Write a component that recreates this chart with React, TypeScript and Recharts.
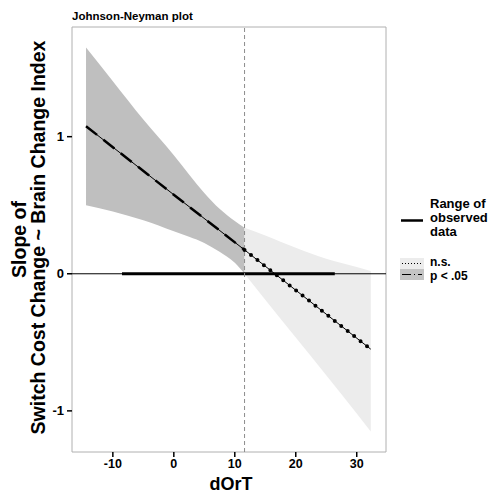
import { ComposedChart, Area, Line, XAxis, YAxis, ReferenceLine, ReferenceArea } from 'recharts'

// values
const xTicks = [-10, 0, 10, 20, 30]
const yTicks = [-1, 0, 1]
const jnPoint = 11.6

// confidence band where slope is significant (p < .05)
const sigX = [-14.4, -10, -5, 0, 2.5, 5, 7.5, 10, 11.6]
const sigLo = [0.5, 0.455, 0.39, 0.31, 0.27, 0.225, 0.16, 0.08, 0.0]
const sigHi = [1.65, 1.405, 1.125, 0.865, 0.725, 0.59, 0.475, 0.385, 0.335]

// confidence band where slope is n.s.
const nsX = [11.6, 15, 20, 25, 30, 32.3]
const nsLo = [0.0, -0.19, -0.465, -0.74, -1.02, -1.15]
const nsHi = [0.335, 0.28, 0.19, 0.11, 0.05, 0.02]

// slope estimate line
const sigLineX = [-14.4, 11.6]
const sigLineY = [1.076, 0.174]
const nsLineX = [11.6, 32.3]
const nsLineY = [0.174, -0.55]

// range of observed moderator values
const observedRange = [-8.5, 26.4]

const sigBand = sigX.map((x, i) => ({ x, band: [sigLo[i], sigHi[i]] }))
const nsBand = nsX.map((x, i) => ({ x, band: [nsLo[i], nsHi[i]] }))
const sigLine = sigLineX.map((x, i) => ({ x, y: sigLineY[i] }))
const nsLine = nsLineX.map((x, i) => ({ x, y: nsLineY[i] }))
const observed = observedRange.map(x => ({ x, y: 0 }))

const font = '"Liberation Sans", Arial, sans-serif'

function YLabel(props: any) {
  const vb = props.viewBox || { x: 0, y: 27, width: 72, height: 425 }
  const cy = vb.y + vb.height / 2
  return (
    <g fontFamily={font} fontWeight="bold" fontSize={19.5} fill="#000">
      <text x={0} y={0} textAnchor="middle" transform={`translate(26,${cy}) rotate(-90)`}>Slope of</text>
      <text x={0} y={0} textAnchor="middle" transform={`translate(44.5,${cy - 2}) rotate(-90)`}>
        Switch Cost Change ~ Brain Change Index
      </text>
    </g>
  )
}

function XLabel(props: any) {
  const vb = props.viewBox || { x: 72, y: 452, width: 314, height: 42 }
  return (
    <text x={vb.x + vb.width / 2 + 2} y={490} textAnchor="middle" fontFamily={font} fontWeight="bold" fontSize={18} fill="#000">
      dOrT
    </text>
  )
}

export default function App() {
  return (
    <div style={{ position: 'absolute', left: 0, top: 0, width: 491, height: 494, background: '#fff' }}>
      <ComposedChart width={491} height={494} margin={{ top: 27, right: 105, bottom: 0, left: 0 }}>
        <XAxis
          dataKey="x"
          type="number"
          domain={[-16.7, 34.8]}
          allowDataOverflow
          ticks={xTicks}
          height={42}
          axisLine={false}
          tickLine={{ stroke: '#000', strokeWidth: 1.5 }}
          tickSize={5}
          tickMargin={2}
          tick={{ fill: '#000', fontSize: 12.5, fontWeight: 'bold', fontFamily: font }}
          label={<XLabel />}
        />
        <YAxis
          type="number"
          domain={[-1.3, 1.8]}
          allowDataOverflow
          ticks={yTicks}
          width={72}
          axisLine={false}
          tickLine={{ stroke: '#000', strokeWidth: 1.5 }}
          tickSize={5}
          tickMargin={3}
          tick={{ fill: '#000', fontSize: 13, fontWeight: 'bold', fontFamily: font }}
          label={<YLabel />}
        />
        <Area data={sigBand} dataKey="band" type="monotone" stroke="none" fill="#bfbfbf" fillOpacity={1} isAnimationActive={false} />
        <Area data={nsBand} dataKey="band" type="monotone" stroke="none" fill="#ececec" fillOpacity={1} isAnimationActive={false} />
        <ReferenceLine y={0} stroke="#000" strokeWidth={1} />
        <Line data={observed} dataKey="y" stroke="#000" strokeWidth={3} dot={false} activeDot={false} isAnimationActive={false} />
        <ReferenceLine x={jnPoint} stroke="#8c8c8c" strokeWidth={1} strokeDasharray="4 3" />
        <Line data={sigLine} dataKey="y" stroke="#000" strokeWidth={1} dot={false} activeDot={false} isAnimationActive={false} />
        <Line data={sigLine} dataKey="y" stroke="#000" strokeWidth={2.5} strokeDasharray="14 8" dot={false} activeDot={false} isAnimationActive={false} />
        <Line data={nsLine} dataKey="y" stroke="#000" strokeWidth={1} dot={false} activeDot={false} isAnimationActive={false} />
        <Line data={nsLine} dataKey="y" stroke="#000" strokeWidth={4} strokeLinecap="round" strokeDasharray="0 8.2" dot={false} activeDot={false} isAnimationActive={false} />
        <ReferenceArea x1={-16.7} x2={34.8} y1={-1.3} y2={1.8} fill="none" stroke="#b0b0b0" strokeWidth={1} />
      </ComposedChart>
      <svg width={491} height={494} style={{ position: 'absolute', left: 0, top: 0, pointerEvents: 'none' }}>
        <g fontFamily={font} fontWeight="bold" fill="#000">
          <text x={72} y={20} fontSize={11.5}>Johnson-Neyman plot</text>
          <line x1={401} x2={423} y1={220.5} y2={220.5} stroke="#000" strokeWidth={2.5} />
          <text x={430} y={207.5} fontSize={13}>Range of</text>
          <text x={430} y={221.5} fontSize={13}>observed</text>
          <text x={430} y={235.5} fontSize={13}>data</text>
          <rect x={400} y={258} width={24} height={11} fill="#ececec" />
          <line x1={402} x2={422} y1={263.5} y2={263.5} stroke="#000" strokeWidth={1.2} strokeDasharray="1 2" />
          <rect x={400} y={269} width={24} height={11} fill="#c4c4c4" />
          <line x1={402} x2={422} y1={274.5} y2={274.5} stroke="#000" strokeWidth={1.2} strokeDasharray="9 3 1 3" />
          <text x={430} y={266} fontSize={12}>n.s.</text>
          <text x={430} y={280} fontSize={12}>p &lt; .05</text>
        </g>
      </svg>
    </div>
  )
}
